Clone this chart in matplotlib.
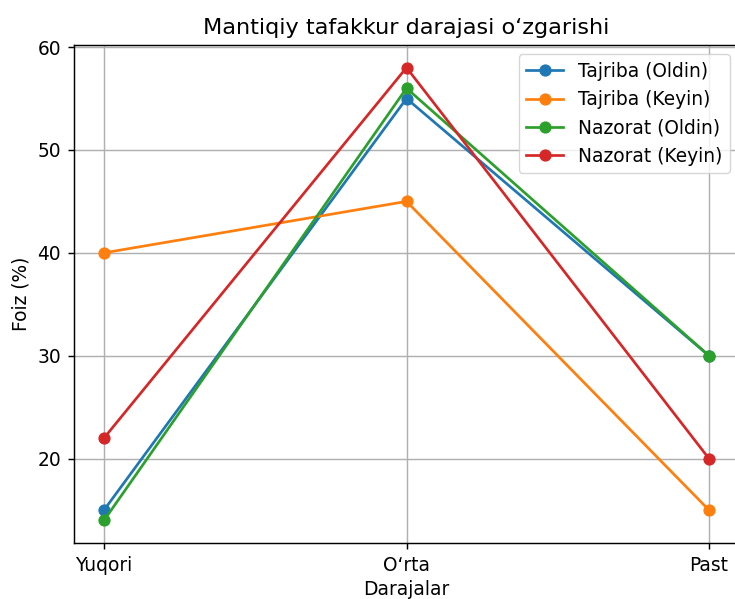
import matplotlib
matplotlib.use("Agg")
import matplotlib.pyplot as plt

levels = ["Yuqori", "O\u2018rta", "Past"]
tajriba_oldin = [15, 55, 30]
tajriba_keyin = [40, 45, 15]
nazorat_oldin = [14, 56, 30]
nazorat_keyin = [22, 58, 20]

S = 1.3   # line/marker scale vs. defaults
F = 1.34  # font scale vs. defaults

fig = plt.figure(figsize=(7.35, 5.99), dpi=100)
ax = fig.add_axes([73.75 / 735, 56 / 599, 665.5 / 735, 498 / 599])

series = [
    ("Tajriba (Oldin)", tajriba_oldin),
    ("Tajriba (Keyin)", tajriba_keyin),
    ("Nazorat (Oldin)", nazorat_oldin),
    ("Nazorat (Keyin)", nazorat_keyin),
]
for label, vals in series:
    ax.plot(levels, vals, marker="o", label=label, linewidth=1.5 * S, markersize=6 * S)

ax.set_title("Mantiqiy tafakkur darajasi o\u2018zgarishi", fontsize=12 * F, pad=6 * S)
ax.set_xlabel("Darajalar", fontsize=10 * F, labelpad=3 * S)
ax.set_ylabel("Foiz (%)", fontsize=10 * F, labelpad=4 * S)
ax.tick_params(labelsize=10 * F, length=3.5 * S, width=0.8 * S, pad=3.5 * S)
for sp in ax.spines.values():
    sp.set_linewidth(0.8 * S)
ax.grid(True, linewidth=0.8 * S)
ax.legend(loc="upper right", fontsize=10 * F)

fig.savefig("out.png", dpi=100)
